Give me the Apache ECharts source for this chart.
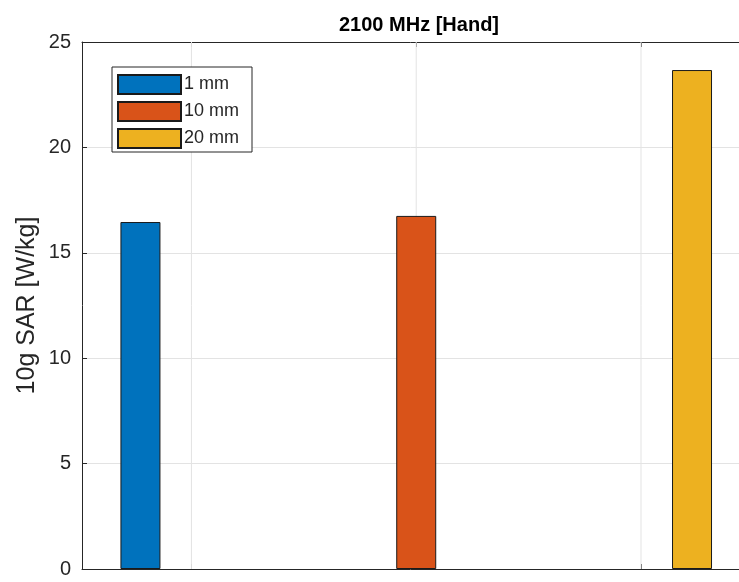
<!DOCTYPE html>
<html>
<head>
<meta charset="utf-8">
<script src="https://cdn.jsdelivr.net/npm/echarts@6/dist/echarts.min.js"></script>
<style>
html,body{margin:0;padding:0;background:#fff;overflow:hidden;}
#c{width:739px;height:582px;}
</style>
</head>
<body>
<div id="c"></div>
<script>
// ---- data ----
const titleText = '2100 MHz [Hand]';
const yAxisName = '10g SAR [W/kg]';
const seriesNames = ['1 mm', '10 mm', '20 mm'];
const sarValues = [16.46, 16.75, 23.67];
const barXPositions = [0.773, 2, 3.227];
const xTickValues = [1, 2, 3];
const yTickValues = [0, 5, 10, 15, 20, 25];
const seriesColors = ['#0072BD', '#D95319', '#EDB120'];

const FONT = '"Liberation Sans", Arial, Helvetica, sans-serif';
const AXIS_COLOR = '#262626';
const GRID_COLOR = '#e3e3e3';

const chart = echarts.init(document.getElementById('c'), null, {renderer: 'canvas'});

const barSeries = seriesNames.map((name, i) => ({
  type: 'bar',
  name: name,
  data: [[barXPositions[i], sarValues[i]]],
  barWidth: 40,
  barGap: '-100%',
  z: 3,
  itemStyle: {color: seriesColors[i], borderColor: '#1a1a1a', borderWidth: 1},
  emphasis: {disabled: true},
  animation: false
}));

const gridSeries = {
  type: 'custom',
  name: 'vgrid',
  silent: true,
  z: 1,
  animation: false,
  data: xTickValues.map(v => [v]),
  renderItem: function (params, api) {
    const v = api.value(0);
    const p0 = api.coord([v, yTickValues[0]]);
    const p1 = api.coord([v, yTickValues[yTickValues.length - 1]]);
    return {
      type: 'line',
      shape: {x1: p0[0], y1: p0[1], x2: p1[0], y2: p1[1]},
      style: {stroke: GRID_COLOR, lineWidth: 1}
    };
  }
};

const xCommon = {
  type: 'value',
  min: 0.513,
  max: 3.436,
  axisLine: {show: true, onZero: false, lineStyle: {color: AXIS_COLOR, width: 1}},
  axisTick: {show: true, inside: true, length: 5, customValues: xTickValues, lineStyle: {color: AXIS_COLOR}},
  axisLabel: {show: false},
  splitLine: {show: false}
};

chart.setOption({
  backgroundColor: '#ffffff',
  animation: false,
  title: {
    text: titleText,
    left: 414,
    textAlign: 'center',
    top: 10,
    textStyle: {fontFamily: FONT, fontSize: 20, fontWeight: 'bold', color: '#000'}
  },
  legend: {
    data: seriesNames,
    orient: 'vertical',
    left: 112,
    top: 67,
    padding: [7, 13, 3, 5],
    itemWidth: 63,
    itemHeight: 19,
    itemGap: 6,
    icon: 'rect',
    backgroundColor: '#ffffff',
    borderColor: AXIS_COLOR,
    borderWidth: 1,
    borderRadius: 0,
    selectedMode: false,
    textStyle: {fontFamily: FONT, fontSize: 18, lineHeight: 20, color: AXIS_COLOR, padding: [0, 0, 0, -2]}
  },
  grid: {left: 82, right: 0, top: 42, bottom: 13, containLabel: false, outerBoundsMode: 'none'},
  xAxis: [
    Object.assign({position: 'bottom'}, xCommon),
    Object.assign({position: 'top'}, xCommon)
  ],
  yAxis: {
    type: 'value',
    min: yTickValues[0],
    max: yTickValues[yTickValues.length - 1],
    interval: 5,
    name: yAxisName,
    nameLocation: 'middle',
    nameGap: 42,
    nameMoveOverlap: false,
    nameTextStyle: {fontFamily: FONT, fontSize: 25, color: AXIS_COLOR},
    axisLine: {show: true, lineStyle: {color: AXIS_COLOR, width: 1}},
    axisTick: {show: true, inside: true, length: 5, lineStyle: {color: AXIS_COLOR}},
    axisLabel: {fontFamily: FONT, fontSize: 20, color: AXIS_COLOR, margin: 11},
    splitLine: {show: true, lineStyle: {color: GRID_COLOR, width: 1}}
  },
  series: [gridSeries].concat(barSeries)
});
</script>
</body>
</html>
